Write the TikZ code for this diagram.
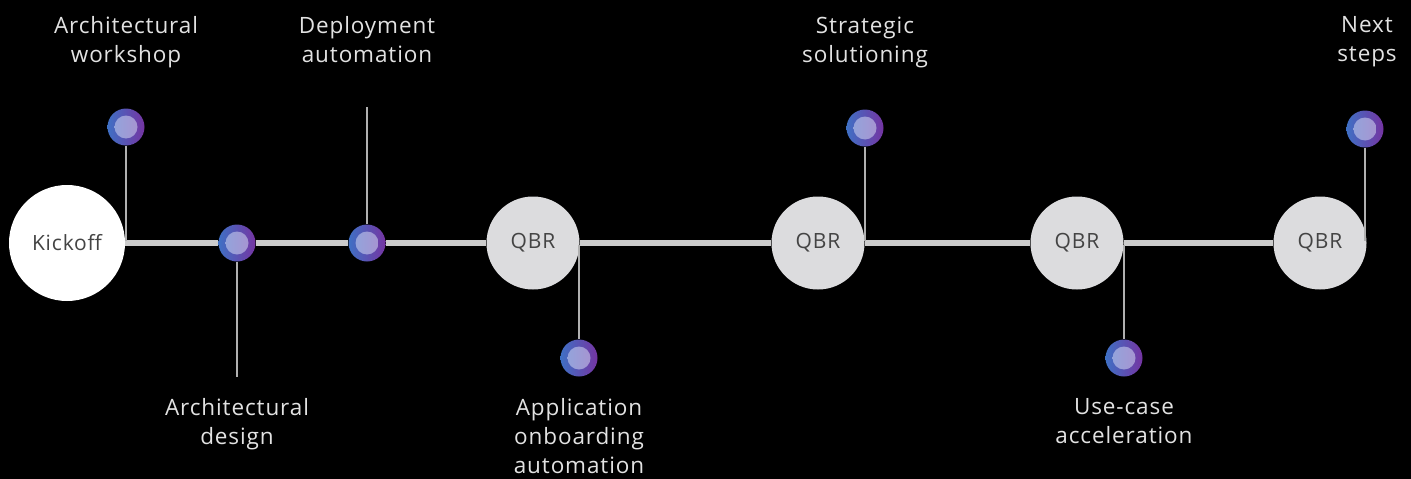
\documentclass[tikz,border=0pt]{standalone}
\usepackage{fontspec}
\setmainfont[LetterSpace=4]{Open Sans}
\definecolor{bg}{HTML}{000000}
\definecolor{track}{HTML}{CCCCCC}
\definecolor{stem}{HTML}{B0B0B0}
\definecolor{qbrfill}{HTML}{DCDCDE}
\definecolor{darktxt}{HTML}{444444}
\definecolor{lighttxt}{HTML}{E2E2E2}
\definecolor{ringL}{HTML}{3F70C4}
\definecolor{ringR}{HTML}{7534A2}
\definecolor{coreL}{HTML}{8EA8DE}
\definecolor{coreR}{HTML}{AC90CE}
\tikzset{
  kick/.style={circle,fill=white,minimum size=116pt,inner sep=0pt,text=darktxt,font=\fontsize{21}{25}\selectfont},
  qbr/.style={circle,fill=qbrfill,minimum size=93pt,inner sep=0pt,text=darktxt,font=\fontsize{21}{25}\selectfont},
  dot/.style={circle,minimum size=37pt,inner sep=0pt,left color=ringL,right color=ringR,
    path picture={\shade[left color=coreL,right color=coreR] (path picture bounding box.center) circle (11.5pt);}},
  tracklink/.style={draw=track,line width=6pt},
  stemlink/.style={draw=stem,line width=1.3pt},
  lbl/.style={align=center,inner sep=0pt,text=lighttxt,font=\fontsize{22.5}{29}\selectfont,anchor=north}
}
\begin{document}
\begin{tikzpicture}[x=1pt,y=-1pt]
\fill[bg] (0,0) rectangle (1411,479);
\useasboundingbox (0,0) rectangle (1411,479);
% main nodes
\node[kick] (kick) at (67,243) {Kickoff};
\node[qbr] (q1) at (533,243) {QBR};
\node[qbr] (q2) at (818,243) {QBR};
\node[qbr] (q3) at (1077,243) {QBR};
\node[qbr] (q4) at (1320,243) {QBR};
% dots
\node[dot] (d1) at (126,127) {};
\node[dot] (d2) at (237,243) {};
\node[dot] (d3) at (367,243) {};
\node[dot] (d4) at (579,358) {};
\node[dot] (d5) at (865,128) {};
\node[dot] (d6) at (1124,358) {};
\node[dot] (d7) at (1365,129) {};
% stem ends
\coordinate (c1) at (126,241);
\coordinate (c2) at (237,377);
\coordinate (c3) at (367,107);
\coordinate (c4) at (579,245);
\coordinate (c5) at (865,241);
\coordinate (c6) at (1124,245);
\coordinate (c7) at (1365,241);
% track
\path[tracklink] (kick) -- (d2);
\path[tracklink] (d2) -- (d3);
\path[tracklink] (d3) -- (q1);
\path[tracklink] (q1) -- (q2);
\path[tracklink] (q2) -- (q3);
\path[tracklink] (q3) -- (q4);
% stems
\path[stemlink] (d1) -- (c1);
\path[stemlink] (d2) -- (c2);
\path[stemlink] (d3) -- (c3);
\path[stemlink] (c4) -- (d4);
\path[stemlink] (d5) -- (c5);
\path[stemlink] (c6) -- (d6);
\path[stemlink] (d7) -- (c7);
% labels
\node[lbl] (t1) at (126,16.5) {Architectural\\workshop};
\node[lbl] (t3) at (367,16.5) {Deployment\\automation};
\node[lbl] (t5) at (865,16.5) {Strategic\\solutioning};
\node[lbl] (t7) at (1367,16.5) {Next\\steps};
\node[lbl] (t2) at (237,398.5) {Architectural\\design};
\node[lbl] (t4) at (579,398.5) {Application\\onboarding\\automation};
\node[lbl] (t6) at (1124,398.5) {Use-case\\acceleration};
\end{tikzpicture}
\end{document}
